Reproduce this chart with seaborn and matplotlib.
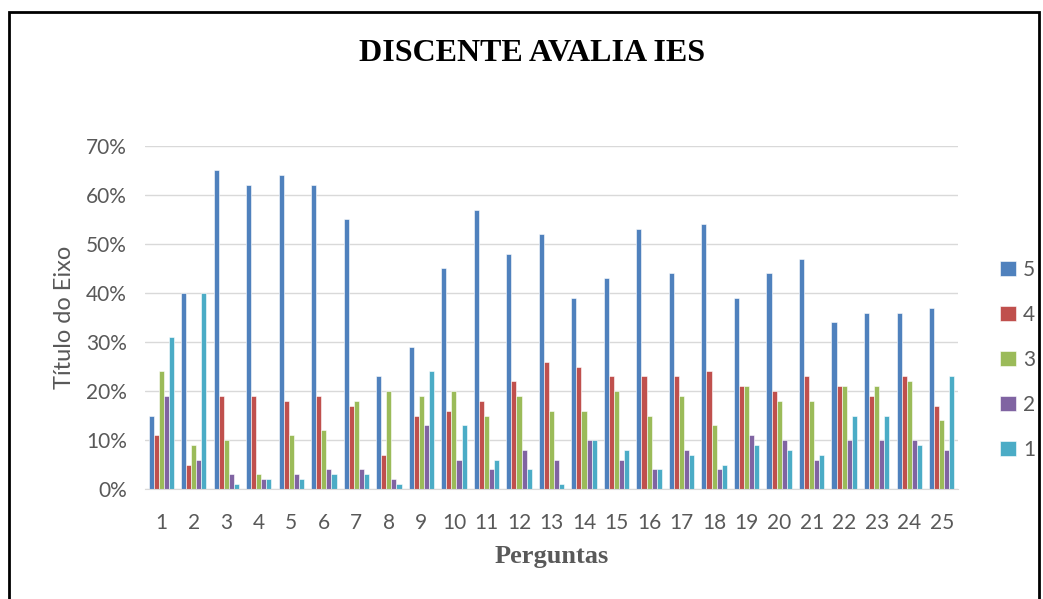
import pandas as pd
import matplotlib.pyplot as plt
import seaborn as sns
from matplotlib.patches import Rectangle
from matplotlib.ticker import PercentFormatter

# Questions 1..25 and the share of each answer grade (percent)
perguntas = [str(i) for i in range(1, 26)]
nota_5 = [15, 40, 65, 62, 64, 62, 55, 23, 29, 45, 57, 48, 52, 39, 43, 53, 44, 54, 39, 44, 47, 34, 36, 36, 37]
nota_4 = [11, 5, 19, 19, 18, 19, 17, 7, 15, 16, 18, 22, 26, 25, 23, 23, 23, 24, 21, 20, 23, 21, 19, 23, 17]
nota_3 = [24, 9, 10, 3, 11, 12, 18, 20, 19, 20, 15, 19, 16, 16, 20, 15, 19, 13, 21, 18, 18, 21, 21, 22, 14]
nota_2 = [19, 6, 3, 2, 3, 4, 4, 2, 13, 6, 4, 8, 6, 10, 6, 4, 8, 4, 11, 10, 6, 10, 10, 10, 8]
nota_1 = [31, 40, 1, 2, 2, 3, 3, 1, 24, 13, 6, 4, 1, 10, 8, 4, 7, 5, 9, 8, 7, 15, 15, 9, 23]

series = ['5', '4', '3', '2', '1']
cores = ['#4F81BD', '#C0504D', '#9BBB59', '#8064A2', '#4BACC6']

wide = pd.DataFrame({'Pergunta': perguntas, '5': nota_5, '4': nota_4,
                     '3': nota_3, '2': nota_2, '1': nota_1})
df = wide.melt(id_vars='Pergunta', var_name='Nota', value_name='Valor')
df['Valor'] = df['Valor'] / 100

sns.set_style("white")
plt.rcParams['font.family'] = ['Lato', 'DejaVu Sans']

fig = plt.figure(figsize=(10.43, 5.99), dpi=100)
ax = fig.add_axes([0.139, 0.1836, 0.7795, 0.5727])

sns.barplot(data=df, x='Pergunta', y='Valor', hue='Nota', hue_order=series,
            palette=cores, saturation=1, width=0.78, edgecolor='white',
            linewidth=0.4, ax=ax, legend=True)

ax.set_ylim(0, 0.70)
ax.set_xlim(-0.5, 24.5)
ax.yaxis.set_major_formatter(PercentFormatter(1.0, decimals=0))
ax.set_yticks([i / 10 for i in range(8)])
ax.grid(axis='y', color='#D9D9D9', linewidth=1)
ax.set_axisbelow(True)
for s in ['top', 'right', 'left']:
    ax.spines[s].set_visible(False)
ax.spines['bottom'].set_color('#D9D9D9')
ax.tick_params(axis='both', length=0, labelsize=15, colors='#595959')
ax.tick_params(axis='y', pad=13)
ax.tick_params(axis='x', pad=17)

ax.set_ylabel('Título do Eixo', fontsize=17, color='#595959', labelpad=8)
ax.set_xlabel('Perguntas', fontsize=19, color='#595959', fontweight='bold',
              family='Liberation Serif', labelpad=9)

fig.text(0.51, 0.91, 'DISCENTE AVALIA IES', ha='center', va='center',
         fontsize=23, fontweight='bold', family='Liberation Serif', color='black')

# Legend on the right, one entry per grade
handles, labels = ax.get_legend_handles_labels()
ax.legend(handles, labels, loc='center left', bbox_to_anchor=(1.029, 0.376),
          frameon=False, fontsize=15, labelcolor='#595959', handlelength=0.75,
          handleheight=0.75, handletextpad=0.35, labelspacing=1.2)

# outer chart border
fig.patches.append(Rectangle((0.0085, -0.05), 0.988, 1.03, transform=fig.transFigure,
                             fill=False, edgecolor='black', linewidth=2))

plt.savefig('out.png', dpi=100)
plt.close()
